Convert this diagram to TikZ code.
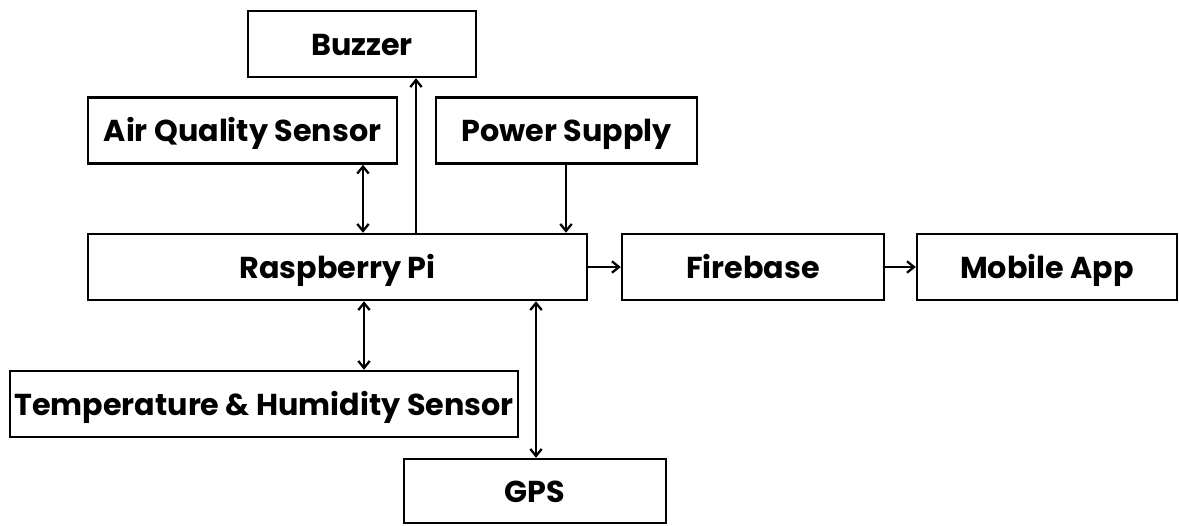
\documentclass[tikz,border=0pt]{standalone}
\usepackage{fontspec}
\setmainfont{Poppins}
\usetikzlibrary{arrows.meta}

\tikzset{
  block/.style={draw, line width=1.4pt, minimum height=1.32cm, inner sep=0pt,
    text height=13pt, text depth=0pt,
    font=\bfseries\fontsize{17.2}{20}\selectfont},
  link/.style={line width=1.3pt, >={Straight Barb[length=4pt,width=6.5pt]}}
}

\begin{document}
\begin{tikzpicture}[x=0.02cm, y=-0.02cm]
    \useasboundingbox (0,0) rectangle (1179,525);
    % blocks
    \node[block, minimum width=4.56cm] (buzzer) at (362,44) {Buzzer};
    \node[block, minimum width=6.18cm] (air) at (242.5,130.5) {Air Quality Sensor};
    \node[block, minimum width=5.22cm] (power) at (566.5,130.5) {Power Supply};
    \node[block, minimum width=9.98cm] (rpi) at (337.5,267) {Raspberry Pi};
    \node[block, minimum width=5.24cm] (firebase) at (753,267) {Firebase};
    \node[block, minimum width=5.2cm] (app) at (1047,267) {Mobile App};
    \node[block, minimum width=10.16cm] (temp) at (264,404) {Temperature \& Humidity Sensor};
    \node[block, minimum width=5.24cm, minimum height=1.28cm] (gps) at (535,491) {GPS};
    % x positions of the vertical links
    \coordinate (airx) at (363,0);
    \coordinate (buzx) at (416,0);
    \coordinate (powx) at (566,0);
    \coordinate (tempx) at (364,0);
    \coordinate (gpsx) at (536,0);
    % links
    \draw[link, <->] (air.south -| airx) -- (rpi.north -| airx);
    \draw[link, ->] (rpi.north -| buzx) -- (buzzer.south -| buzx);
    \draw[link, ->] (power.south -| powx) -- (rpi.north -| powx);
    \draw[link, ->] (rpi.east) -- (firebase.west);
    \draw[link, ->] (firebase.east) -- (app.west);
    \draw[link, <->] (rpi.south -| tempx) -- (temp.north -| tempx);
    \draw[link, <->] (rpi.south -| gpsx) -- (gps.north -| gpsx);
\end{tikzpicture}
\end{document}
